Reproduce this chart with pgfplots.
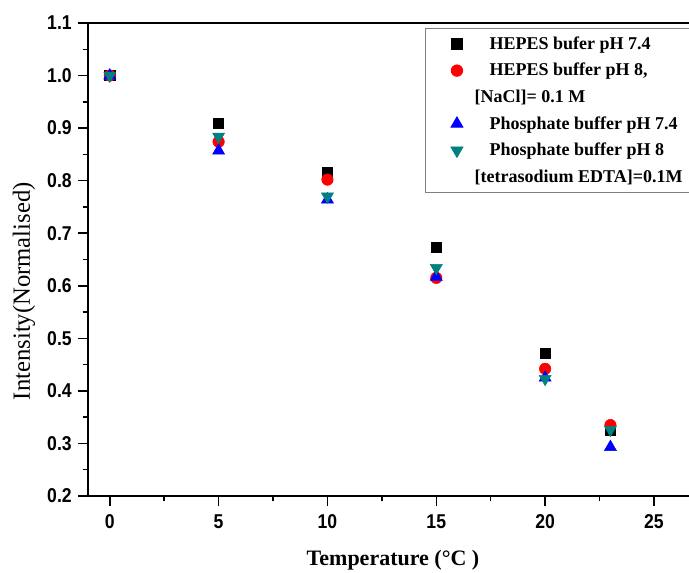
\documentclass[border=0pt]{standalone}
\usepackage{fontspec}
\setmainfont{Liberation Serif}
\setsansfont{Liberation Sans}
\newfontfamily\tickfont[FakeStretch=0.88]{Liberation Sans}
\usepackage{pgfplots}
\pgfplotsset{compat=1.18}
\definecolor{tealc}{RGB}{0,128,128}
\begin{document}
\begin{tikzpicture}
\useasboundingbox (-66pt,-57pt) rectangle (450.75pt,372pt);
\begin{axis}[
  anchor=south west, at={(0,0)},
  scale only axis, width=450.75pt, height=354.75pt,
  xmin=-1, xmax=26.61, ymin=0.2, ymax=1.1,
  axis x line*=box, axis y line*=left,
  xtick pos=bottom, ytick pos=left,
  xtick={0,5,...,25}, ytick={0.2,0.3,...,1.1},
  minor x tick num=1, minor y tick num=1,
  tick align=outside,
  major tick length=7.5pt, minor tick length=4pt,
  every tick/.style={black, line width=1.1pt},
  axis line style={line width=1.3pt},
  /pgf/number format/assume math mode=true,
  /pgf/number format/fixed, /pgf/number format/fixed zerofill, 
  yticklabel style={/pgf/number format/precision=1, font=\tickfont\bfseries\fontsize{15}{16}\selectfont, xshift=-1.2pt},
  xticklabel style={/pgf/number format/precision=0, font=\tickfont\bfseries\fontsize{15}{16}\selectfont, yshift=-2.7pt},
  xticklabel={\pgfmathprintnumber[fixed,precision=0]{\tick}},
  ylabel={Intensity(Normalised)},
  xlabel={\textbf{Temperature (°C )}},
  every axis y label/.style={at={(rel axis cs:0,0.433)}, xshift=-48pt, rotate=90, anchor=center, font=\fontsize{18.5}{20}\selectfont},
  every axis x label/.style={at={(rel axis cs:0.5075,0)}, yshift=-51.75pt, anchor=base, font=\fontsize{16.5}{18}\selectfont},
  legend cell align=left,
  legend style={at={(rel axis cs:0.561,0.989)}, anchor=north west, draw=gray, line width=0.6pt,
    font=\bfseries\fontsize{13.5}{15}\selectfont, row sep=5pt, inner xsep=15pt, inner ysep=4pt},
]
\addplot[only marks, mark=square*, mark size=3.8pt, black] coordinates {(0,1.0) (5,0.909) (10,0.815) (15,0.674) (20,0.472) (23,0.325)};
\addlegendentry{\hspace*{18pt}HEPES bufer pH 7.4}
\addplot[only marks, mark=*, mark size=4.3pt, red] coordinates {(0,1.0) (5,0.874) (10,0.802) (15,0.615) (20,0.442) (23,0.335)};
\addlegendentry{\hspace*{18pt}HEPES buffer pH 8,}
\addlegendimage{empty legend}
\addlegendentry{\hspace*{6.75pt}[NaCl]= 0.1 M}
\addplot[only marks, mark=triangle*, mark size=5.2pt, blue] coordinates {(0,1.0) (5,0.857) (10,0.764) (15,0.617) (20,0.425) (23,0.293)};
\addlegendentry{\hspace*{18pt}Phosphate buffer pH 7.4}
\addplot[only marks, mark=triangle*, mark options={rotate=180}, mark size=5.2pt, tealc] coordinates {(0,1.0) (5,0.884) (10,0.770) (15,0.634) (20,0.423) (23,0.326)};
\addlegendentry{\hspace*{18pt}Phosphate buffer pH 8}
\addlegendimage{empty legend}
\addlegendentry{\hspace*{6.75pt}[tetrasodium EDTA]=0.1M}
\end{axis}
\end{tikzpicture}
\end{document}
